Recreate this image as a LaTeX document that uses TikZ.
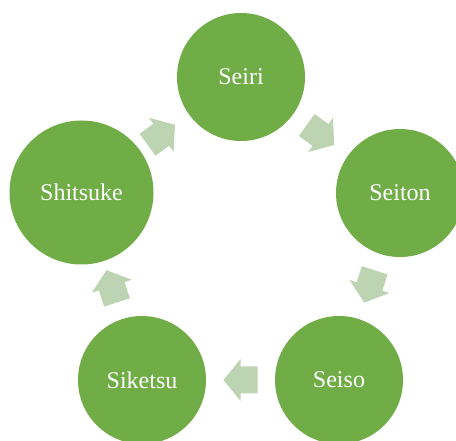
\documentclass[tikz,border=0pt]{standalone}
\usepackage{fontspec}
\setmainfont{Liberation Serif}
\usetikzlibrary{calc}
\definecolor{leaf}{RGB}{112,173,71}
\definecolor{pale}{RGB}{188,212,178}
\tikzset{
  stage/.style={circle, fill=leaf, text=white, minimum size=128pt, inner sep=0pt,
    font=\fontsize{24}{28}\selectfont},
  bigstage/.style={stage, minimum size=144pt},
  blockarrow/.style={fill=pale},
}
\newcommand\cyclearrow[3]{%
  \fill[blockarrow, shift={($(#1)!0.5!(#2)$)}, rotate=#3]
    (17,0) -- (0,21) -- (0,13.5) -- (-17,13.5) -- (-17,-13.5) -- (0,-13.5) -- (0,-21) -- cycle;
}
\begin{document}
\begin{tikzpicture}[x=1pt, y=-1pt]
\useasboundingbox (0,0) rectangle (456,441);
\node[stage] (seiri) at (241,77) {Seiri};
\node[stage] (seiton) at (400,193) {Seiton};
\node[stage] (seiso) at (339,380) {Seiso};
\node[stage] (siketsu) at (142,380) {Siketsu};
\node[bigstage] (shitsuke) at (81.5,192.5) {Shitsuke};
\cyclearrow{seiri}{seiton}{-36}
\cyclearrow{seiton}{seiso}{-108}
\cyclearrow{seiso}{siketsu}{180}
\cyclearrow{siketsu}{shitsuke}{108}
\cyclearrow{shitsuke}{seiri}{36}
\end{tikzpicture}
\end{document}
